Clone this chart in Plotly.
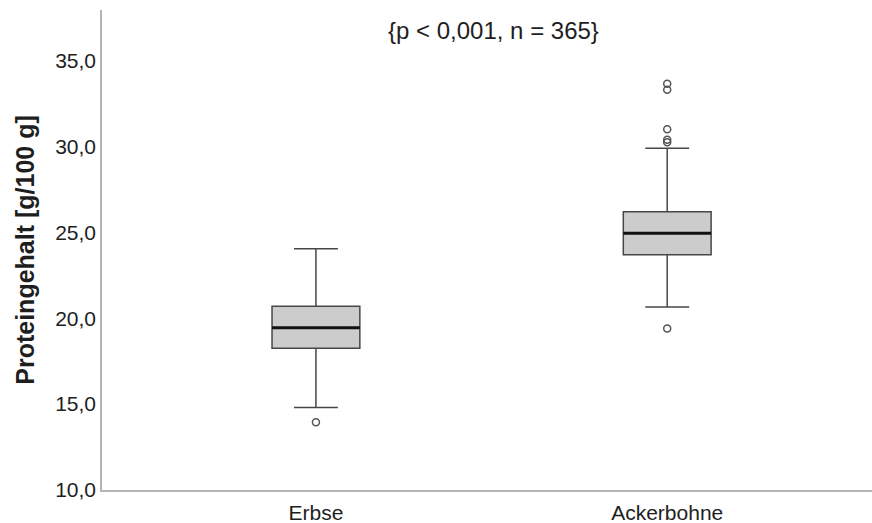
import plotly.graph_objects as go

# Group labels and five-number summaries (protein content, g/100 g)
categories = ["Erbse", "Ackerbohne"]
lower_whisker = [14.8, 20.65]
q1 = [18.25, 23.7]
median = [19.45, 24.95]
q3 = [20.7, 26.2]
upper_whisker = [24.05, 29.9]
outliers = [[13.95], [19.4, 30.25, 30.4, 31.0, 33.3, 33.65]]

y_ticks = [10, 15, 20, 25, 30, 35]
title_text = "{p < 0,001, n = 365}"
y_title = "Proteingehalt [g/100 g]"

FONT = "Arial, Liberation Sans, sans-serif"
BOX_WIDTH = 0.25
positions = list(range(len(categories)))

fig = go.Figure()

# Boxes with whiskers
fig.add_trace(go.Box(
    x=positions,
    q1=q1, median=median, q3=q3,
    lowerfence=lower_whisker, upperfence=upper_whisker,
    width=BOX_WIDTH, whiskerwidth=0.5,
    fillcolor="#cccccc",
    line=dict(color="#474747", width=1.5),
    boxpoints=False, hoverinfo="skip", showlegend=False,
))

# Heavier median bars
mx, my = [], []
for p, m in zip(positions, median):
    mx += [p - BOX_WIDTH / 2, p + BOX_WIDTH / 2, None]
    my += [m, m, None]
fig.add_trace(go.Scatter(
    x=mx, y=my, mode="lines",
    line=dict(color="#111111", width=3),
    hoverinfo="skip", showlegend=False,
))

# Outliers as open circles
ox, oy = [], []
for p, vals in zip(positions, outliers):
    ox += [p] * len(vals)
    oy += vals
fig.add_trace(go.Scatter(
    x=ox, y=oy, mode="markers",
    marker=dict(symbol="circle-open", size=7, color="#555555",
                line=dict(width=1.5, color="#555555")),
    hoverinfo="skip", showlegend=False,
))

fig.add_annotation(
    text=title_text, xref="paper", yref="paper",
    x=0.508, y=0.958, xanchor="center", yanchor="middle",
    showarrow=False, font=dict(family=FONT, size=24, color="#1e1e1e"),
)

fig.update_layout(
    width=872, height=523,
    margin=dict(l=102, r=0, t=10, b=33),
    paper_bgcolor="white", plot_bgcolor="white",
    separators=",.",
    font=dict(family=FONT, color="#1e1e1e"),
)

fig.update_xaxes(
    range=[-0.609, 1.583],
    tickvals=positions, ticktext=categories,
    tickfont=dict(size=21, color="#1e1e1e"),
    ticklabelstandoff=3,
    showgrid=False, zeroline=False, ticks="",
    showline=True, linecolor="#b5b5b5", linewidth=1.5,
)

fig.update_yaxes(
    range=[10, 37.95],
    tickvals=y_ticks, tickformat=".1f",
    tickfont=dict(size=21, color="#1e1e1e"),
    showgrid=False, zeroline=False, ticks="",
    showline=True, linecolor="#b5b5b5", linewidth=1.5,
    title=dict(text="<b>" + y_title + "</b>",
               font=dict(size=25, color="#1e1e1e"), standoff=13),
)

fig.write_html("out.html")
